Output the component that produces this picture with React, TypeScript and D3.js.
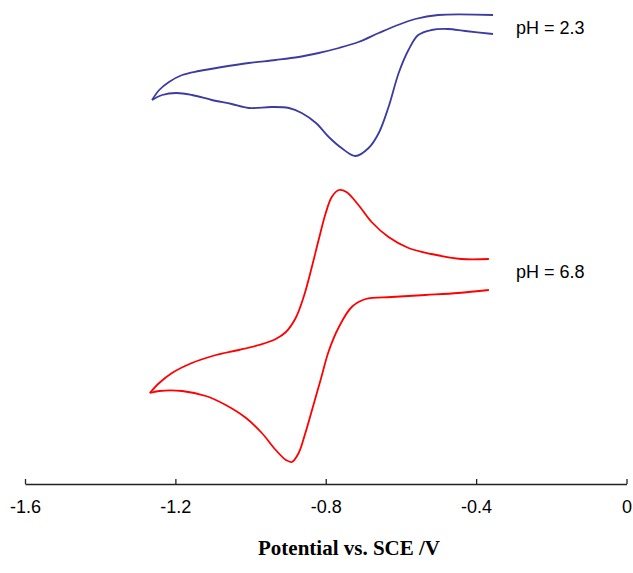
import * as d3 from "d3";
import React, { useRef, useEffect } from "react";

// potential (V vs SCE) and current (arb. units)
const ph23Upper: [number, number][] = [
  [-1.262, 38.4], [-1.243, 39.4], [-1.217, 40.2], [-1.182, 40.9], [-1.137, 41.3],
  [-1.076, 41.7], [-1.005, 42.1], [-0.933, 42.4], [-0.872, 42.7], [-0.819, 43.1],
  [-0.765, 43.6], [-0.713, 44.2], [-0.659, 45.1], [-0.615, 45.8], [-0.562, 46.5],
  [-0.501, 46.9], [-0.355, 46.9],
];
const ph23Lower: [number, number][] = [
  [-1.262, 38.4], [-1.235, 38.9], [-1.198, 39.1], [-1.156, 38.9], [-1.103, 38.4],
  [-1.05, 38.0], [-1.005, 37.6], [-0.944, 37.7], [-0.898, 37.6], [-0.864, 37.1],
  [-0.826, 36.1], [-0.792, 34.7], [-0.758, 33.6], [-0.721, 32.8], [-0.686, 33.6],
  [-0.659, 35.1], [-0.633, 37.7], [-0.606, 41.1], [-0.58, 43.4], [-0.554, 44.9],
  [-0.519, 45.4], [-0.475, 45.5], [-0.429, 45.3], [-0.355, 45.0],
];
const ph68Upper: [number, number][] = [
  [-1.268, 9.1], [-1.243, 10.1], [-1.209, 11.1], [-1.156, 12.1], [-1.092, 12.9],
  [-1.031, 13.4], [-0.978, 13.9], [-0.933, 14.5], [-0.906, 15.2], [-0.88, 16.6],
  [-0.858, 18.8], [-0.837, 21.7], [-0.819, 24.4], [-0.8, 27.1], [-0.784, 28.7],
  [-0.765, 29.4], [-0.745, 29.2], [-0.713, 27.9], [-0.678, 26.2], [-0.633, 24.7],
  [-0.58, 23.6], [-0.519, 23.0], [-0.44, 22.5], [-0.366, 22.5],
];
const ph68Lower: [number, number][] = [
  [-1.268, 9.1], [-1.243, 9.3], [-1.182, 9.3], [-1.119, 8.8], [-1.066, 7.9],
  [-1.012, 6.6], [-0.97, 5.1], [-0.933, 3.4], [-0.906, 2.4], [-0.89, 2.2],
  [-0.872, 3.1], [-0.855, 5.0], [-0.835, 7.6], [-0.813, 10.5], [-0.792, 13.3],
  [-0.765, 15.7], [-0.731, 17.7], [-0.694, 18.5], [-0.625, 18.7], [-0.535, 18.9],
  [-0.448, 19.1], [-0.366, 19.4],
];
const xTicks = [-1.6, -1.2, -0.8, -0.4, 0];
const labels = ["pH = 2.3", "pH = 6.8"];
const labelAt = [46.9, 22.5];

const App = () => {
  const ref = useRef<SVGSVGElement>(null);

  useEffect(() => {
    if (!ref.current) return;
    document.body.style.margin = "0";
    const width = 633;
    const height = 573;

    const svg = d3.select(ref.current).attr("width", width).attr("height", height);
    svg.selectAll("*").remove();

    const x = d3.scaleLinear().domain([-1.6, 0]).range([25, 626.5]);
    const y = d3.scaleLinear().domain([0, 48]).range([484, 4]);

    const line = d3
      .line<[number, number]>()
      .x((d) => x(d[0]))
      .y((d) => y(d[1]))
      .curve(d3.curveCatmullRom);

    const series = [
      { data: ph23Upper, color: "#3b3ba0" },
      { data: ph23Lower, color: "#3b3ba0" },
      { data: ph68Upper, color: "#ff0000" },
      { data: ph68Lower, color: "#ff0000" },
    ];
    series.forEach((s) => {
      svg
        .append("path")
        .datum(s.data)
        .attr("fill", "none")
        .attr("stroke", s.color)
        .attr("stroke-width", 1.8)
        .attr("d", line);
    });

    // x axis, ticks point up; the "0" runs off the right edge as in the original
    const axis = svg
      .append("g")
      .attr("transform", "translate(0,484)")
      .call(
        d3
          .axisBottom(x)
          .tickValues(xTicks)
          .tickFormat((d) => String(d))
          .tickSizeInner(-5)
          .tickSizeOuter(0)
          .tickPadding(16)
      );
    axis.select(".domain").attr("stroke", "#222").attr("stroke-width", 1.3);
    axis.selectAll(".tick line").attr("stroke", "#222").attr("stroke-width", 1.3);
    axis
      .selectAll("text")
      .attr("fill", "#000")
      .style("font-family", "Arial, 'Liberation Sans', sans-serif")
      .style("font-size", "18px");

    svg
      .append("text")
      .attr("x", 349)
      .attr("y", 555)
      .attr("text-anchor", "middle")
      .style("font-family", "'Times New Roman', 'Liberation Serif', serif")
      .style("font-weight", "bold")
      .style("font-size", "21px")
      .text("Potential vs. SCE /V");

    labels.forEach((t, i) => {
      svg
        .append("text")
        .attr("x", 516)
        .attr("y", y(labelAt[i]) + 19)
        .style("font-family", "Arial, 'Liberation Sans', sans-serif")
        .style("font-size", "18px")
        .text(t);
    });
  }, []);

  return <svg ref={ref} style={{ display: "block" }} />;
};

export default App;
